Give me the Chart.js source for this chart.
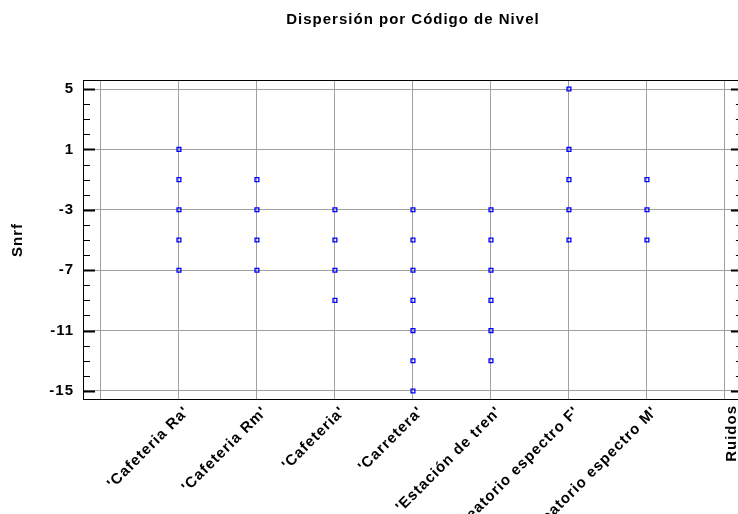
<!DOCTYPE html>
<html>
<head>
<meta charset="utf-8">
<script src="https://cdn.jsdelivr.net/npm/chart.js@4"></script>
<style>
  html, body { margin: 0; padding: 0; background: #ffffff; }
  canvas { display: block; }
</style>
</head>
<body>
<canvas id="chart" width="738" height="514"></canvas>
<script>
// Category labels along the horizontal axis (index 0 is an empty slot)
const categories = [
  "",
  "'Cafeteria Ra'",
  "'Cafeteria Rm'",
  "'Cafeteria'",
  "'Carretera'",
  "'Estación de tren'",
  "'Ruido aleatorio espectro F'",
  "'Ruido aleatorio espectro M'",
  ""
];

// Snrf values observed for each noise type
const cafeteriaRa    = [1, -1, -3, -5, -7];
const cafeteriaRm    = [-1, -3, -5, -7];
const cafeteria      = [-3, -5, -7, -9];
const carretera      = [-3, -5, -7, -9, -11, -13, -15];
const estacionTren   = [-3, -5, -7, -9, -11, -13];
const aleatorioF     = [5, 1, -1, -3, -5];
const aleatorioM     = [-1, -3, -5];

// Labelled values on the Snrf axis
const yTickValues = [5, 1, -3, -7, -11, -15];

const chartTitle = "Dispersión por Código de Nivel";
const xAxisTitle = "Ruidos";
const yAxisTitle = "Snrf";

const groups = [cafeteriaRa, cafeteriaRm, cafeteria, carretera, estacionTren, aleatorioF, aleatorioM];
const points = [];
groups.forEach((vals, g) => vals.forEach(v => points.push({ x: g + 1, y: v })));

const FONT = "'Liberation Sans', Arial, sans-serif";
const FONT_SIZE = 15;
// Visible x range, and the frame which runs a little past the canvas on the right
const X_MIN = -0.23, X_MAX = 8.167, FRAME_MAX = 8.23;

// Slightly wide letter spacing for every text drawn on the canvas
const spacing = {
  id: 'spacing',
  beforeUpdate(chart) { chart.ctx.letterSpacing = '1px'; },
  beforeDraw(chart) { chart.ctx.letterSpacing = '1px'; }
};

// Frame, inward tick marks, title and the vertical axis caption
const decorations = {
  id: 'decorations',
  afterDraw(chart) {
    const { ctx, chartArea: a, scales } = chart;
    const ys = scales.y, xs = scales.x;
    const left = xs.getPixelForValue(X_MIN), right = xs.getPixelForValue(FRAME_MAX);
    ctx.save();
    ctx.strokeStyle = '#000';
    ctx.lineWidth = 1;
    ctx.strokeRect(left + 0.5, a.top + 0.5, right - left - 1, a.bottom - a.top - 1);
    for (let v = Math.ceil(ys.min); v <= Math.floor(ys.max); v++) {
      const major = yTickValues.includes(v);
      const len = major ? 12 : 7;
      const py = Math.round(ys.getPixelForValue(v)) + 0.5;
      ctx.lineWidth = major ? 2 : 1;
      ctx.beginPath();
      ctx.moveTo(left, py); ctx.lineTo(left + len, py);
      ctx.moveTo(right, py); ctx.lineTo(right - len, py);
      ctx.stroke();
    }
    ctx.fillStyle = '#000';
    ctx.font = 'bold ' + FONT_SIZE + 'px ' + FONT;
    ctx.textAlign = 'center';
    ctx.textBaseline = 'middle';
    ctx.fillText(chartTitle, (left + right) / 2, 20);
    const px = xs.getPixelForValue(categories.length - 1);
    ctx.translate(px + 7, a.bottom + 5);
    ctx.rotate(-Math.PI / 2);
    ctx.textAlign = 'right';
    ctx.fillText(xAxisTitle, 0, 0);
    ctx.restore();
  }
};

new Chart(document.getElementById('chart'), {
  type: 'scatter',
  data: {
    datasets: [{
      data: points,
      pointStyle: 'rect',
      pointRadius: 2.7,
      pointHoverRadius: 2.7,
      borderColor: '#0000ff',
      backgroundColor: 'rgba(255,255,255,0)',
      borderWidth: 1.3
    }]
  },
  options: {
    responsive: false,
    animation: false,
    events: [],
    layout: { autoPadding: false, padding: { top: 80, right: 0, bottom: 0, left: 0 } },
    plugins: { legend: { display: false }, tooltip: { enabled: false }, title: { display: false } },
    scales: {
      x: {
        type: 'linear',
        min: X_MIN,
        max: X_MAX,
        afterBuildTicks: s => { s.ticks = categories.map((_, i) => ({ value: i })); },
        afterFit: s => { s.height = 114; s.paddingLeft = 0; s.paddingRight = 0; },
        ticks: {
          autoSkip: false,
          minRotation: 45,
          maxRotation: 45,
          padding: 3,
          labelOffset: 8,
          color: '#000',
          font: { family: FONT, size: FONT_SIZE, weight: 'bold' },
          callback: v => categories[v] ?? ''
        },
        grid: { color: '#a0a0a0', borderDash: [1, 1], lineWidth: 1, drawTicks: false },
        border: { display: false }
      },
      y: {
        min: -15.6,
        max: 5.6,
        afterBuildTicks: s => { s.ticks = yTickValues.map(v => ({ value: v })); },
        afterFit: s => { s.width = 83; s.paddingTop = 0; s.paddingBottom = 0; },
        ticks: {
          padding: 9,
          color: '#000',
          font: { family: FONT, size: FONT_SIZE, weight: 'bold' }
        },
        grid: { color: '#a0a0a0', borderDash: [1, 1], lineWidth: 1, drawTicks: false },
        border: { display: false },
        title: {
          display: true,
          text: yAxisTitle,
          color: '#000',
          padding: { top: 9, bottom: 0 },
          font: { family: FONT, size: FONT_SIZE, weight: 'bold' }
        }
      }
    }
  },
  plugins: [spacing, decorations]
});
</script>
</body>
</html>
